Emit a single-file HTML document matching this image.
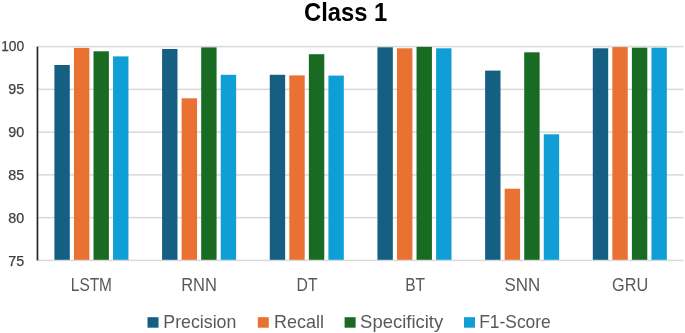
<!DOCTYPE html>
<html><head><meta charset="utf-8"><style>
html,body{margin:0;padding:0;background:#fff;width:685px;height:333px;overflow:hidden;font-family:"Liberation Sans", sans-serif;}
svg{display:block;will-change:transform;}
</style></head><body>
<svg width="685" height="333" viewBox="0 0 685 333">
<rect width="685" height="333" fill="#fff"/>
<rect x="37.30" y="45.85" width="646.20" height="1.5" fill="#d9d9d9"/>
<rect x="37.30" y="88.61" width="646.20" height="1.5" fill="#d9d9d9"/>
<rect x="37.30" y="131.37" width="646.20" height="1.5" fill="#d9d9d9"/>
<rect x="37.30" y="174.13" width="646.20" height="1.5" fill="#d9d9d9"/>
<rect x="37.30" y="216.89" width="646.20" height="1.5" fill="#d9d9d9"/>
<rect x="37.30" y="259.65" width="646.20" height="1.5" fill="#d9d9d9"/>
<rect x="54.40" y="65.00" width="15.4" height="194.80" fill="#156082"/>
<rect x="73.95" y="47.90" width="15.4" height="211.90" fill="#E97132"/>
<rect x="93.50" y="51.30" width="15.4" height="208.50" fill="#196B24"/>
<rect x="113.05" y="56.40" width="15.4" height="203.40" fill="#0F9ED5"/>
<rect x="162.08" y="49.00" width="15.4" height="210.80" fill="#156082"/>
<rect x="181.63" y="98.30" width="15.4" height="161.50" fill="#E97132"/>
<rect x="201.18" y="47.40" width="15.4" height="212.40" fill="#196B24"/>
<rect x="220.73" y="74.80" width="15.4" height="185.00" fill="#0F9ED5"/>
<rect x="269.76" y="74.80" width="15.4" height="185.00" fill="#156082"/>
<rect x="289.31" y="75.40" width="15.4" height="184.40" fill="#E97132"/>
<rect x="308.86" y="54.20" width="15.4" height="205.60" fill="#196B24"/>
<rect x="328.41" y="75.60" width="15.4" height="184.20" fill="#0F9ED5"/>
<rect x="377.44" y="47.30" width="15.4" height="212.50" fill="#156082"/>
<rect x="396.99" y="48.30" width="15.4" height="211.50" fill="#E97132"/>
<rect x="416.54" y="46.90" width="15.4" height="212.90" fill="#196B24"/>
<rect x="436.09" y="48.30" width="15.4" height="211.50" fill="#0F9ED5"/>
<rect x="485.12" y="70.60" width="15.4" height="189.20" fill="#156082"/>
<rect x="504.67" y="188.70" width="15.4" height="71.10" fill="#E97132"/>
<rect x="524.22" y="52.30" width="15.4" height="207.50" fill="#196B24"/>
<rect x="543.77" y="134.30" width="15.4" height="125.50" fill="#0F9ED5"/>
<rect x="592.80" y="48.30" width="15.4" height="211.50" fill="#156082"/>
<rect x="612.35" y="47.10" width="15.4" height="212.70" fill="#E97132"/>
<rect x="631.90" y="47.70" width="15.4" height="212.10" fill="#196B24"/>
<rect x="651.45" y="47.70" width="15.4" height="212.10" fill="#0F9ED5"/>
<rect x="36.6" y="46.60" width="1.7" height="213.80" fill="#262626"/>
<text x="1.20" y="51.05" font-family="Liberation Sans" font-size="14.2" fill="#404040" stroke="#404040" stroke-width="0.25" textLength="22.9" lengthAdjust="spacingAndGlyphs">100</text>
<text x="8.20" y="93.98" font-family="Liberation Sans" font-size="14.2" fill="#404040" stroke="#404040" stroke-width="0.25" textLength="15.9" lengthAdjust="spacingAndGlyphs">95</text>
<text x="8.20" y="136.91" font-family="Liberation Sans" font-size="14.2" fill="#404040" stroke="#404040" stroke-width="0.25" textLength="15.9" lengthAdjust="spacingAndGlyphs">90</text>
<text x="8.20" y="179.84" font-family="Liberation Sans" font-size="14.2" fill="#404040" stroke="#404040" stroke-width="0.25" textLength="15.9" lengthAdjust="spacingAndGlyphs">85</text>
<text x="8.20" y="222.77" font-family="Liberation Sans" font-size="14.2" fill="#404040" stroke="#404040" stroke-width="0.25" textLength="15.9" lengthAdjust="spacingAndGlyphs">80</text>
<text x="8.20" y="265.70" font-family="Liberation Sans" font-size="14.2" fill="#404040" stroke="#404040" stroke-width="0.25" textLength="15.9" lengthAdjust="spacingAndGlyphs">75</text>
<text x="70.80" y="290.9" font-family="Liberation Sans" font-size="17.5" fill="#595959" textLength="41.20" lengthAdjust="spacingAndGlyphs">LSTM</text>
<text x="181.20" y="290.9" font-family="Liberation Sans" font-size="17.5" fill="#595959" textLength="35.70" lengthAdjust="spacingAndGlyphs">RNN</text>
<text x="296.50" y="290.9" font-family="Liberation Sans" font-size="17.5" fill="#595959" textLength="21.00" lengthAdjust="spacingAndGlyphs">DT</text>
<text x="405.20" y="290.9" font-family="Liberation Sans" font-size="17.5" fill="#595959" textLength="19.90" lengthAdjust="spacingAndGlyphs">BT</text>
<text x="504.40" y="290.9" font-family="Liberation Sans" font-size="17.5" fill="#595959" textLength="35.70" lengthAdjust="spacingAndGlyphs">SNN</text>
<text x="612.10" y="290.9" font-family="Liberation Sans" font-size="17.5" fill="#595959" textLength="36.10" lengthAdjust="spacingAndGlyphs">GRU</text>
<text x="304.0" y="20.7" font-family="Liberation Sans" font-weight="bold" font-size="25" fill="#000" textLength="83.2" lengthAdjust="spacingAndGlyphs">Class 1</text>
<rect x="147.50" y="317.2" width="11" height="10.5" fill="#156082"/>
<text x="163.30" y="327.9" font-family="Liberation Sans" font-size="17.8" fill="#595959" textLength="73.10" lengthAdjust="spacingAndGlyphs">Precision</text>
<rect x="257.80" y="317.2" width="11" height="10.5" fill="#E97132"/>
<text x="274.10" y="327.9" font-family="Liberation Sans" font-size="17.8" fill="#595959" textLength="49.90" lengthAdjust="spacingAndGlyphs">Recall</text>
<rect x="344.60" y="317.2" width="11" height="10.5" fill="#196B24"/>
<text x="360.10" y="327.9" font-family="Liberation Sans" font-size="17.8" fill="#595959" textLength="83.10" lengthAdjust="spacingAndGlyphs">Specificity</text>
<rect x="464.00" y="317.2" width="11" height="10.5" fill="#0F9ED5"/>
<text x="479.20" y="327.9" font-family="Liberation Sans" font-size="17.8" fill="#595959" textLength="71.60" lengthAdjust="spacingAndGlyphs">F1-Score</text>
</svg>
</body></html>
